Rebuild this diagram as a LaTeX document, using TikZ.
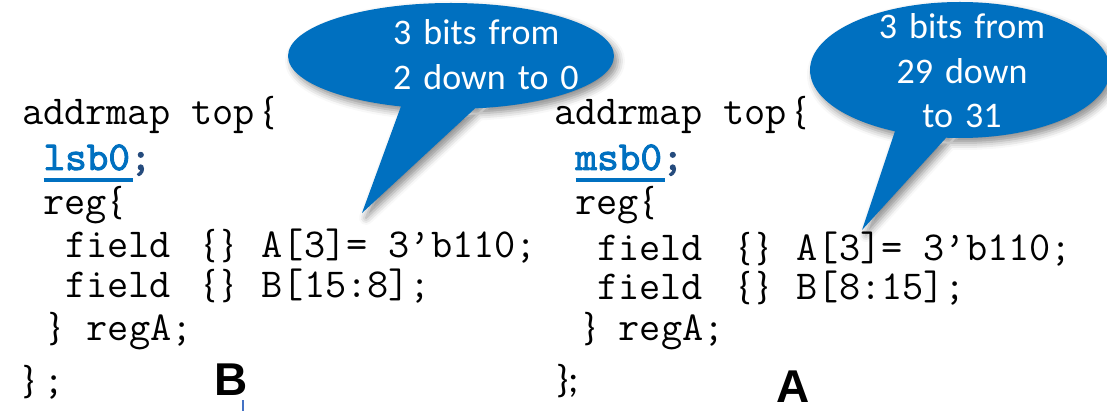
\documentclass[tikz,border=0pt]{standalone}
\usepackage{fontspec}
\setmainfont{Carlito}
\newfontfamily\symfont{Carlito}
\newfontfamily\tagfont{Liberation Sans}
\newfontfamily\kwfont{lmmono10-regular}[Extension=.otf, FakeBold=2.2]
\usetikzlibrary{shadows.blur}

\definecolor{bubbleblue}{RGB}{0,112,192}
\definecolor{semiblue}{RGB}{37,75,125}
\definecolor{tickblue}{RGB}{68,114,196}

% braces (and one semicolon) are set in the proportional face
\newcommand\pb[1]{{\symfont\fontsize{39}{39}\selectfont#1}}

% typewriter face at a pitch of 21.6pt per character
\tikzset{
  codeline/.style={anchor=base west, inner sep=0pt, outer sep=0pt,
    font=\ttfamily\fontsize{41.14}{41}\selectfont},
  keyword/.style={codeline, text=bubbleblue,
    font=\kwfont\bfseries\fontsize{41.14}{41}\selectfont},
  semicolon/.style={codeline, text=semiblue,
    font=\kwfont\bfseries\fontsize{41.14}{41}\selectfont},
  keyline/.style={draw=bubbleblue, line width=3.5pt},
  bubble/.style={fill=bubbleblue, draw=none,
    blur shadow={shadow xshift=4pt, shadow yshift=-5pt,
      shadow blur radius=7pt, shadow opacity=45}},
  bubbletext/.style={inner sep=0pt, text=white, text width=240pt,
    font=\fontsize{36}{44.5}\selectfont},
  tag/.style={anchor=base west, inner sep=0pt,
    font=\tagfont\bfseries\fontsize{46}{46}\selectfont},
  tick/.style={draw=tickblue, line width=1.8pt},
}

\begin{document}
\begin{tikzpicture}[x=1pt,y=-1pt]
\useasboundingbox (0,0) rectangle (1107,411);

% ---- left listing: lsb0 ----
\node[codeline] (l1) at (22,125) {addrmap top\hspace{8pt}\pb{\{}};
\node[keyword] (lkw) at (43.6,170) {lsb0};
\node[semicolon] (lsemi) at (lkw.base east) {;};
\draw[keyline] ([yshift=-10pt]lkw.base west) -- ([xshift=3pt,yshift=-10pt]lkw.base east);
\node[codeline] (l3) at (43.6,215) {reg\hspace{4pt}\pb{\{}};
\node[codeline] (l4) at (65.2,258) {field\hspace{33pt}\pb{\{}\hspace{5pt}\pb{\}}\hspace{28pt}A[3]= 3’b110;};
\node[codeline] (l5) at (65.2,298) {field\hspace{33pt}\pb{\{}\hspace{5pt}\pb{\}}\hspace{28pt}B[15:8];};
\node[codeline] (l6) at (22,340) {\makebox[64.8pt][l]{\hspace{26pt}\pb{\}}}regA;};
\node[codeline] (l7) at (22,393) {\makebox[21.6pt][l]{\pb{\}}};};

% ---- right listing: msb0 ----
\node[codeline] (r1) at (554,125) {addrmap top\hspace{8pt}\pb{\{}};
\node[keyword] (rkw) at (575.6,170) {msb0};
\node[semicolon] (rsemi) at (rkw.base east) {;};
\draw[keyline] ([yshift=-10pt]rkw.base west) -- ([xshift=3pt,yshift=-10pt]rkw.base east);
\node[codeline] (r3) at (575.6,215) {reg\hspace{4pt}\pb{\{}};
\node[codeline] (r4) at (597.2,261) {field\hspace{36pt}\pb{\{}\hspace{5pt}\pb{\}}\hspace{28pt}A[3]= 3’b110;};
\node[codeline] (r5) at (597.2,300) {field\hspace{36pt}\pb{\{}\hspace{5pt}\pb{\}}\hspace{28pt}B[8:15];};
\node[codeline] (r6) at (554,340) {\makebox[64.8pt][l]{\hspace{29pt}\pb{\}}}regA;};
\node[codeline] (r7) at (554,392) {\hspace{2pt}\pb{\};}};

% ---- callouts ----
\path[bubble] (451,56) ellipse [x radius=163pt, y radius=53pt]
  (404,98) -- (362,213) -- (483,101) -- cycle;
\node[bubbletext, align=left, anchor=base west] (lnote) at (393,45)
  {3 bits from\\2 down to 0};

\path[bubble] (960,70) ellipse [x radius=150pt, y radius=68pt]
  (897,125) -- (862,230) -- (955,128) -- cycle;
\node[bubbletext, align=center, anchor=base] (rnote) at (962,39)
  {3 bits from\\29 down\\to 31};

% ---- panel tags ----
\node[tag] (tagB) at (214,395) {B};
\node[tag] (tagA) at (776,402) {A};
\coordinate (tickTop) at (243,400);
\coordinate (tickEnd) at (243,413);
\draw[tick] (tickTop) -- (tickEnd);
\end{tikzpicture}
\end{document}
